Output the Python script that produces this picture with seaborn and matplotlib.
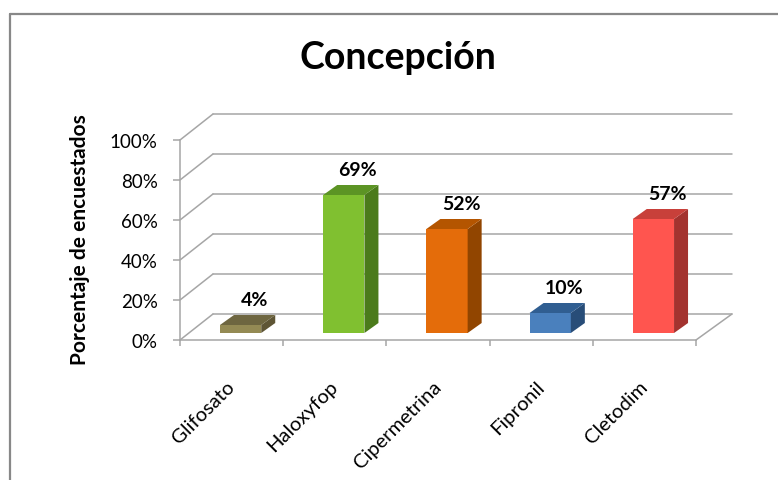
import matplotlib
matplotlib.use("Agg")
import matplotlib.pyplot as plt
import seaborn as sns
import pandas as pd
from matplotlib.patches import Polygon
from matplotlib.lines import Line2D
from matplotlib.transforms import ScaledTranslation

# ---- data ----
categories = ["Glifosato", "Haloxyfop", "Cipermetrina", "Fipronil", "Cletodim"]
values = [4, 69, 52, 10, 57]
value_labels = ["4%", "69%", "52%", "10%", "57%"]
y_ticks = [0, 20, 40, 60, 80, 100]
y_tick_labels = ["0%", "20%", "40%", "60%", "80%", "100%"]
title = "Concepción"
y_label = "Porcentaje de encuestados"

front_colors = ["#948A54", "#80C030", "#E46C0A", "#4A80BD", "#FF554F"]
top_colors = ["#6E6640", "#5C9424", "#B45500", "#305E91", "#C8403A"]
side_colors = ["#5E5535", "#4B7B1B", "#914500", "#284D78", "#A3332F"]

sns.set_theme(style="white")
plt.rcParams["font.family"] = ["Lato", "DejaVu Sans"]

W, H, DPI = 778, 481, 100
fig = plt.figure(figsize=(W / DPI, H / DPI), dpi=DPI)
fig.patch.set_facecolor("white")

# front plane of the 3-D box (pixels)
x0, x1, y0, y1 = 180, 696, 341, 141
ax = fig.add_axes([x0 / W, 1 - y0 / H, (x1 - x0) / W, (y0 - y1) / H])
ax.set_facecolor("none")

df = pd.DataFrame({"cat": categories, "val": values})
sns.barplot(data=df, x="cat", y="val", hue="cat", palette=front_colors,
            width=0.4, legend=False, ax=ax, saturation=1, linewidth=0, zorder=3)
ax.set_xlim(-0.5, len(categories) - 0.5)
ax.set_ylim(0, 100)

ux = (x1 - x0) / (len(categories))   # px per x unit
uy = (y0 - y1) / 100.0               # px per y unit

grid_c = "#a6a6a6"
gl = 1.1
# back wall depth (px)
bdx, bdy = 33, 26
for t in y_ticks:
    ax.plot([-0.5 + bdx / ux, len(categories) - 0.5 + (bdx + 3) / ux],
            [t + bdy / uy, t + bdy / uy], color=grid_c, lw=gl, clip_on=False, zorder=1)
    ax.plot([-0.5, -0.5 + bdx / ux], [t, t + bdy / uy],
            color=grid_c, lw=gl, clip_on=False, zorder=1)
ax.plot([len(categories) - 0.5, len(categories) - 0.5 + (bdx + 3) / ux], [0, bdy / uy],
        color=grid_c, lw=gl, clip_on=False, zorder=1)

# shift bars into the middle of the depth
shift = ScaledTranslation(9 / DPI, 7 / DPI, fig.dpi_scale_trans)
tr = ax.transData + shift
ddx, ddy = 14 / ux, 10 / uy
for i, p in enumerate(ax.patches):
    p.set_transform(tr)
    xl = p.get_x()
    w = p.get_width()
    h = p.get_height()
    side = Polygon([(xl + w, 0), (xl + w, h), (xl + w + ddx, h + ddy), (xl + w + ddx, ddy)],
                   closed=True, facecolor=side_colors[i], edgecolor="none",
                   transform=tr, clip_on=False, zorder=3)
    top = Polygon([(xl, h), (xl + w, h), (xl + w + ddx, h + ddy), (xl + ddx, h + ddy)],
                  closed=True, facecolor=top_colors[i], edgecolor="none",
                  transform=tr, clip_on=False, zorder=3)
    ax.add_patch(side)
    ax.add_patch(top)
    ax.annotate(value_labels[i], xy=(i, values[i]), xytext=(23, 32),
                textcoords="offset pixels", ha="center", va="center",
                fontsize=14, fontweight="bold", color="#000000", zorder=5,
                annotation_clip=False)

# spines / ticks
for s in ["top", "right"]:
    ax.spines[s].set_visible(False)
for s in ["left", "bottom"]:
    ax.spines[s].set_color(grid_c)
    ax.spines[s].set_linewidth(gl)
ax.set_yticks(y_ticks)
ax.set_yticklabels(y_tick_labels, fontsize=13.5, color="#000000")
ax.tick_params(axis="y", direction="out", length=5, width=gl, color=grid_c, pad=11, left=True)
ax.set_xticks(range(len(categories)))
ax.set_xticklabels(categories, fontsize=14.5, color="#000000", rotation=45,
                   ha="right", va="center", rotation_mode="anchor")
ax.set_xticks([i - 0.5 for i in range(len(categories) + 1)], minor=True)
ax.tick_params(axis="x", which="major", length=0, pad=31)
ax.tick_params(axis="x", which="minor", direction="out", length=4, width=gl,
               color=grid_c, bottom=True)
ax.set_xlabel("")
ax.set_ylabel("")

fig.text(80 / W, 1 - 240 / H, y_label, rotation=90, ha="center", va="center",
         fontsize=15, fontweight="bold", color="#000000")
fig.text(398 / W, 1 - 58 / H, title, ha="center", va="center",
         fontsize=27, fontweight="bold", color="#000000")

# outer chart border
bc = "#888888"
fig.add_artist(Line2D([10 / W, 10 / W], [0, 1 - 15 / H], color=bc, lw=1.6))
fig.add_artist(Line2D([10 / W, 1], [1 - 15 / H, 1 - 15 / H], color=bc, lw=1.6))

fig.savefig("out.png", dpi=DPI, facecolor="white")
